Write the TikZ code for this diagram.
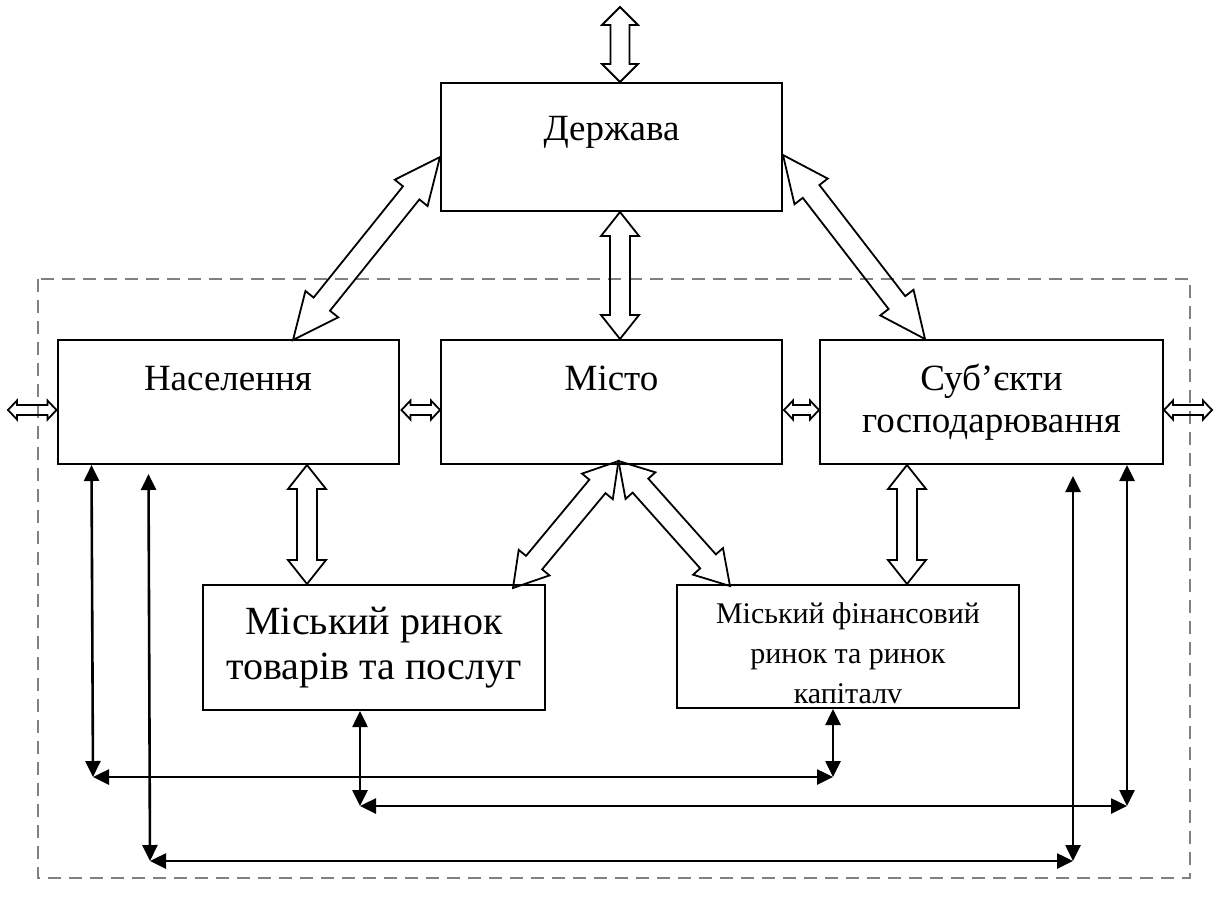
\documentclass[tikz,border=0pt]{standalone}
\usepackage{fontspec}
\setmainfont{Liberation Serif}
\usetikzlibrary{arrows.meta}
\usetikzlibrary{calc}

% hollow double arrow: from, to, shaft half width, head half width, head length
\newcommand{\fatarrow}[5]{%
  \draw[fatline] (#1) -- ($(#1)!#5!(#2)!#4!90:(#2)$) -- ($(#1)!#5!(#2)!#3!90:(#2)$)
    -- ($(#2)!#5!(#1)!#3!-90:(#1)$) -- ($(#2)!#5!(#1)!#4!-90:(#1)$) -- (#2)
    -- ($(#2)!#5!(#1)!#4!90:(#1)$) -- ($(#2)!#5!(#1)!#3!90:(#1)$)
    -- ($(#1)!#5!(#2)!#3!-90:(#2)$) -- ($(#1)!#5!(#2)!#4!-90:(#2)$) -- cycle;}

\begin{document}
\begin{tikzpicture}[x=1pt,y=-1pt,
	box/.style={draw,line width=2pt,inner sep=0pt,minimum width=341pt,minimum height=124pt,
		align=center,font=\fontsize{37}{42}\selectfont},
	fatline/.style={draw,line width=1.8pt,line join=miter},
	link/.style={line width=2.6pt,{Triangle[length=16pt,width=15pt]}-{Triangle[length=16pt,width=15pt]}}]
		\definecolor{dashgray}{RGB}{128,128,128}

		\useasboundingbox (0,0) rectangle (1215,898);

		\draw[dashgray,line width=2.4pt,dash pattern=on 13pt off 8pt] (38,279) rectangle (1190,878);

		\node[box,minimum height=128pt,text height=27pt,text depth=41pt] (gov) at (611.5,147) {Держава};
		\node[box,text height=27pt,text depth=51pt] (pop) at (228,402) {Населення};
		\node[box,text height=27pt,text depth=51pt] (city) at (611.5,402) {Місто};
		\node[box,minimum width=343pt] (biz) at (991.5,402) {Суб’єкти\\господарювання};
		\node[box,minimum width=342pt,minimum height=125pt,font=\fontsize{40}{45}\selectfont] (goods) at (374,647.5) {Міський ринок\\товарів та послуг};
		\node[box,minimum width=342pt,minimum height=123pt,font=\fontsize{30}{40}\selectfont] (fin) at (848,646.5) {\rule{0pt}{34pt}Міський фінансовий\\ринок та ринок\\капіталv};

		% hollow arrows
		\coordinate (ext) at (620,7);
		\coordinate (govN) at (gov.north -| ext);
		\coordinate (govS) at (gov.south -| ext);
		\coordinate (cityN) at (city.north -| ext);
		\coordinate (cityS) at ($(city.south)+(7,-4)$);
		\coordinate (govW) at ($(gov.west)+(0,10)$);
		\coordinate (govE) at ($(gov.east)+(0,8)$);
		\coordinate (popN) at ($(pop.north)+(65,1)$);
		\coordinate (bizN) at ($(biz.north)+(-66.5,0)$);
		\coordinate (goodsN) at ($(goods.north)+(139,4)$);
		\coordinate (finN) at ($(fin.north)+(-118,2)$);
		\coordinate (popS) at ($(pop.south)+(79,0)$);
		\coordinate (goodsM) at (goods.north -| popS);
		\coordinate (bizS) at ($(biz.south)+(-84.5,0)$);
		\coordinate (finM) at (fin.north -| bizS);
		\coordinate (popE) at ($(pop.east)+(2,8)$);
		\coordinate (cityW) at ($(city.west)+(0,8)$);
		\coordinate (cityE) at ($(city.east)+(1,8)$);
		\coordinate (bizW) at ($(biz.west)+(0,8)$);
		\coordinate (popW) at ($(pop.west)+(0,8)$);
		\coordinate (left) at (8,410);
		\coordinate (bizE) at ($(biz.east)+(0,8)$);
		\coordinate (right) at (1212,410);

		\fatarrow{ext}{govN}{9.5pt}{18pt}{18pt}
		\fatarrow{govS}{cityN}{10pt}{19pt}{24pt}
		\fatarrow{govW}{popN}{10.5pt}{21pt}{46pt}
		\fatarrow{govE}{bizN}{10.5pt}{21pt}{46pt}
		\fatarrow{cityS}{goodsN}{10.5pt}{20pt}{33pt}
		\fatarrow{cityS}{finN}{10.5pt}{20pt}{33pt}
		\fatarrow{popS}{goodsM}{10pt}{19pt}{24pt}
		\fatarrow{bizS}{finM}{10pt}{19pt}{24pt}
		\fatarrow{popE}{cityW}{5pt}{9.5pt}{9pt}
		\fatarrow{cityE}{bizW}{5pt}{9.5pt}{9pt}
		\fatarrow{left}{popW}{5pt}{9.5pt}{9pt}
		\fatarrow{bizE}{right}{5pt}{9.5pt}{9pt}

		% thin links
		\coordinate (a1) at (93,777);
		\coordinate (a2) at (833,777);
		\coordinate (b1) at (150,861);
		\coordinate (b2) at (1073,861);
		\coordinate (c1) at (360,806);
		\coordinate (c2) at (1127,806);

		\draw[link] ($(pop.south west)+(35,0)$) -- (a1);
		\draw[link] (a1) -- (a2);
		\draw[link] (fin.south -| a2) -- (a2);
		\draw[link] ($(pop.south west)+(92,9)$) -- (b1);
		\draw[link] (b1) -- (b2);
		\draw[link] ($(biz.south -| b2)+(0,11)$) -- (b2);
		\draw[link] (goods.south -| c1) -- (c1);
		\draw[link] (c1) -- (c2);
		\draw[link] (biz.south -| c2) -- (c2);
\end{tikzpicture}
\end{document}
